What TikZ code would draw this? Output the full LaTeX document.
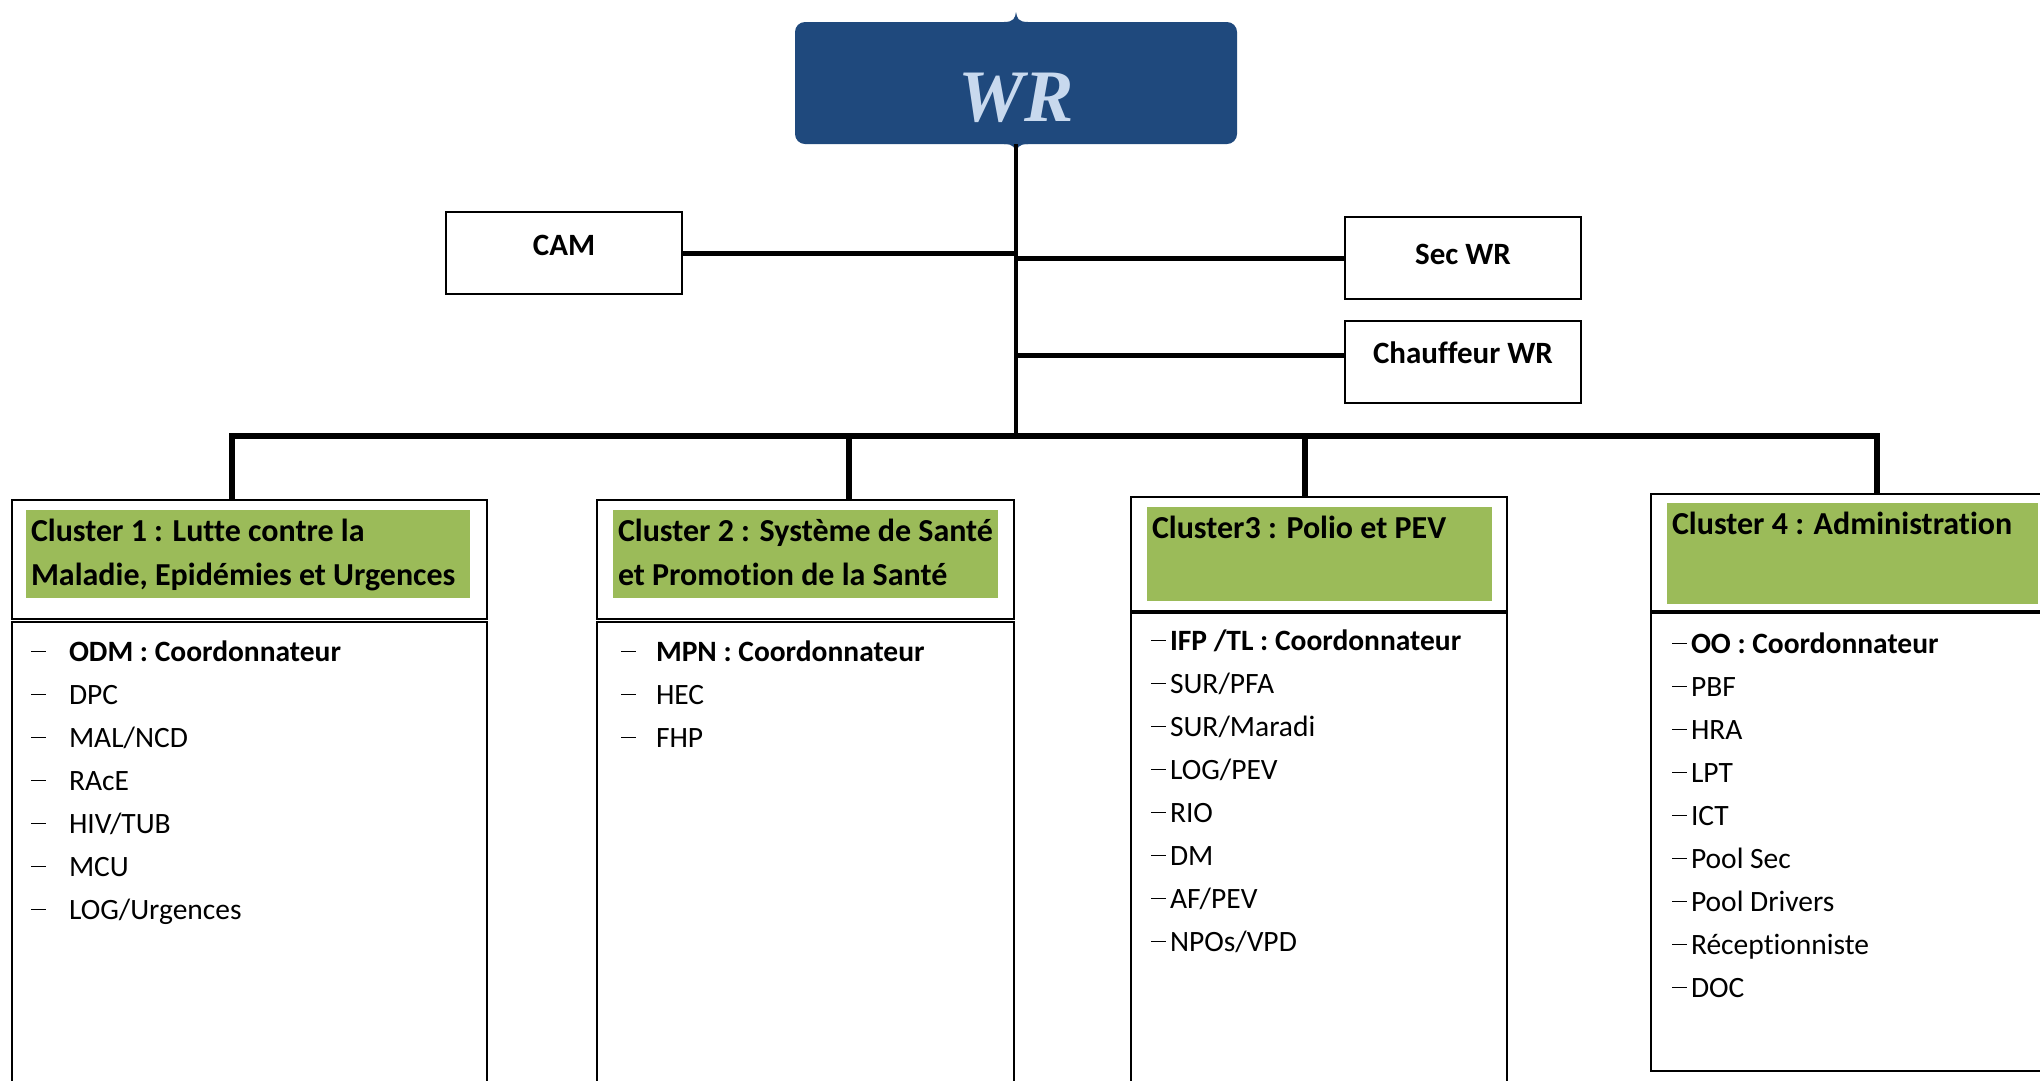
\documentclass[tikz,border=0pt]{standalone}
\usepackage{fontspec}
\setmainfont{Carlito}[Ligatures=NoCommon]
\newfontfamily\wrfont{Liberation Serif}
\definecolor{wrblue}{RGB}{31,73,125}
\definecolor{wrtext}{RGB}{200,217,238}
\definecolor{clgreen}{RGB}{155,187,89}
\newcommand{\tiret}{\rule[9pt]{15pt}{1.4pt}}

\begin{document}
\begin{tikzpicture}[x=1pt,y=-1pt]
\tikzstyle{every node}=[inner sep=0pt, outer sep=0pt]
\tikzstyle{smallbox}=[draw, line width=1.3pt, minimum width=236pt, minimum height=82pt, font=\fontsize{31}{36}\selectfont\bfseries]
\tikzstyle{frame}=[draw, line width=1.3pt, anchor=north west]
\tikzstyle{head}=[fill=clgreen, anchor=north west, inner sep=5pt, font=\fontsize{32}{44}\selectfont\bfseries]
\tikzstyle{item}=[anchor=base west, font=\fontsize{29.5}{34}\selectfont]
\tikzstyle{link}=[line width=5pt]
\tikzstyle{drop}=[line width=6pt]
\clip (0,0) rectangle (2040,1080);
\fill[white] (0,0) rectangle (2040,1080);
% top
\node[fill=wrblue, rounded corners=10pt, minimum width=442pt, minimum height=122pt, text=wrtext, font=\wrfont\bfseries\itshape\fontsize{74}{80}\selectfont] (wr) at (1016,83) {\raisebox{-38pt}[0pt][0pt]{WR}};
\fill[wrblue] ([xshift=-12pt]wr.north) .. controls ([xshift=-2pt]wr.north) and ([xshift=-1pt,yshift=4pt]wr.north) .. ([yshift=10pt]wr.north) .. controls ([xshift=1pt,yshift=4pt]wr.north) and ([xshift=2pt]wr.north) .. ([xshift=12pt]wr.north) -- cycle;
\fill[wrblue] ([xshift=-12pt]wr.south) .. controls ([xshift=-2pt]wr.south) and ([xshift=-1pt,yshift=-4pt]wr.south) .. ([yshift=-10pt]wr.south) .. controls ([xshift=1pt,yshift=-4pt]wr.south) and ([xshift=2pt]wr.south) .. ([xshift=12pt]wr.south) -- cycle;
\node[smallbox] (cam) at (564,253) {\raisebox{-2pt}[0pt][0pt]{CAM}};
\node[smallbox] (sec) at (1463,258) {\raisebox{-6pt}[0pt][0pt]{Sec WR}};
\node[smallbox] (chauf) at (1463,362) {\raisebox{-1pt}[0pt][0pt]{Chauffeur WR}};
\coordinate (bus) at (1016,436);
\draw[line width=4pt] (wr.south) -- (bus);
\draw[link] (cam.east) -- (cam.east -| wr.south);
\draw[link] (sec.west) -- (sec.west -| wr.south);
\draw[link] ([yshift=7pt]chauf.west) -- ([yshift=7pt]chauf.west -| wr.south);
% clusters
\node[frame, minimum width=475pt, minimum height=119pt] (h1) at (12,500) {};
\node[frame, minimum width=417pt, minimum height=119pt] (h2) at (597,500) {};
\node[frame, minimum width=376pt, minimum height=114pt] (h3) at (1131,497) {};
\node[frame, minimum width=420pt, minimum height=117pt] (h4) at (1651,494) {};
\node[frame, minimum width=475pt, minimum height=480pt] (l1) at (12,622) {};
\node[frame, minimum width=417pt, minimum height=480pt] (l2) at (597,622) {};
\node[frame, minimum width=376pt, minimum height=490pt] (l3) at (1131,613) {};
\node[frame, minimum width=420pt, minimum height=458pt] (l4) at (1651,613) {};
\node[head] (g1) at (26,510) {\parbox[t][78pt][t]{434pt}{\vspace*{4pt}Cluster 1 : Lutte contre la\\Maladie, Epidémies et Urgences}};
\node[head] (g2) at (613,510) {\parbox[t][78pt][t]{375pt}{\vspace*{4pt}Cluster 2 : Système de Santé\\et Promotion de la Santé}};
\node[head] (g3) at (1147,507) {\parbox[t][84pt][t]{335pt}{\vspace*{4pt}Cluster3 : Polio et PEV}};
\node[head] (g4) at (1667,503) {\parbox[t][91pt][t]{361pt}{\vspace*{4pt}Cluster 4 : Administration}};
\draw[drop] ([xshift=-18pt]h1.north) |- (bus) -| ([xshift=16pt]h4.north);
\draw[drop] ([xshift=43pt]h2.north) |- (bus);
\draw[drop] ([xshift=-14pt]h3.north) |- (bus);
% lists
\foreach \t [count=\i] in {{\bfseries ODM : Coordonnateur},DPC,MAL/NCD,RAcE,HIV/TUB,MCU,LOG/Urgences}
  \node[item] (a\i) at (31,{661+43*(\i-1)}) {\makebox[38pt][l]{\tiret}\t};
\foreach \t [count=\i] in {{\bfseries MPN : Coordonnateur},HEC,FHP}
  \node[item] (b\i) at (621,{661+43*(\i-1)}) {\makebox[35pt][l]{\tiret}\t};
\foreach \t [count=\i] in {{\bfseries IFP /TL : Coordonnateur},SUR/PFA,SUR/Maradi,LOG/PEV,RIO,DM,AF/PEV,NPOs/VPD}
  \node[item] (c\i) at (1151,{650+43*(\i-1)}) {\tiret\hspace{4pt}\t};
\foreach \t [count=\i] in {{\bfseries OO : Coordonnateur},PBF,HRA,LPT,ICT,Pool Sec,Pool Drivers,Réceptionniste,DOC}
  \node[item] (d\i) at (1672,{653+43*(\i-1)}) {\tiret\hspace{4pt}\t};
\end{tikzpicture}
\end{document}
